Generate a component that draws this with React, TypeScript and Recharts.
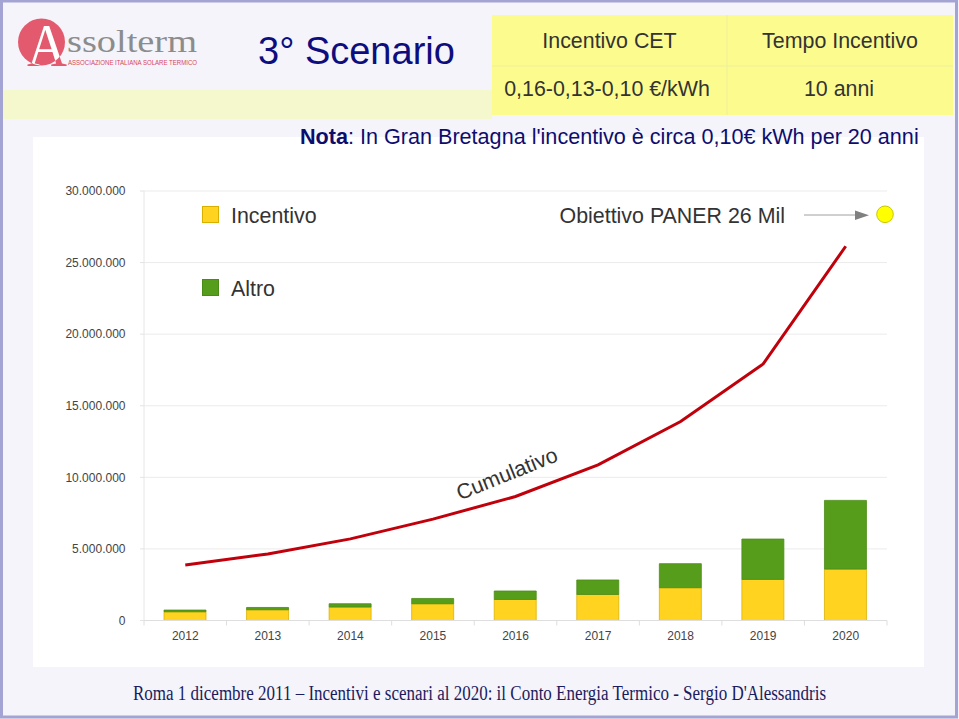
import React from 'react';
import { ComposedChart, Bar, Line, XAxis, YAxis, CartesianGrid, Legend } from 'recharts';

const years = ['2012', '2013', '2014', '2015', '2016', '2017', '2018', '2019', '2020'];
const incentivo = [610000, 750000, 940000, 1170000, 1470000, 1820000, 2290000, 2870000, 3590000];
const altro = [120000, 160000, 230000, 370000, 590000, 1010000, 1680000, 2820000, 4800000];
const cumulativo = [3880000, 4650000, 5700000, 7080000, 8660000, 10870000, 13900000, 17920000, 26140000];
const yTicks = [0, 5000000, 10000000, 15000000, 20000000, 25000000, 30000000];

const seriesNames = { incentivo: 'Incentivo', altro: 'Altro', cumulativo: 'Cumulativo' };
const legendOrder = ['incentivo', 'altro'];
const tableHeader = ['Incentivo CET', 'Tempo Incentivo'];
const tableRow = ['0,16-0,13-0,10 €/kWh', '10 anni'];

const data = years.map((y, i) => ({
  year: y,
  incentivo: incentivo[i],
  altro: altro[i],
  cumulativo: cumulativo[i],
}));

const SANS = '"Liberation Sans", Arial, sans-serif';
const SERIF = '"Liberation Serif", "Times New Roman", serif';

const fmt = (v: number) => String(Math.round(v)).replace(/\B(?=(\d{3})+(?!\d))/g, '.');

const legendBorder: Record<string, string> = { incentivo: '#d8b000', altro: '#4a8a16' };

const renderLegend = (props: any) => {
  const items = (props.payload || [])
    .filter((p: any) => legendOrder.includes(String(p.dataKey)))
    .sort((a: any, b: any) => legendOrder.indexOf(String(a.dataKey)) - legendOrder.indexOf(String(b.dataKey)));
  return (
    <div style={{ fontFamily: SANS, fontSize: 21.4, color: '#333' }}>
      {items.map((it: any, i: number) => (
        <div
          key={String(it.dataKey)}
          style={{ display: 'flex', alignItems: 'center', height: 18, marginBottom: i === 0 ? 55 : 0, whiteSpace: 'nowrap' }}
        >
          <span
            style={{
              display: 'inline-block',
              width: 17,
              height: 17,
              boxSizing: 'border-box',
              background: it.color,
              border: `1px solid ${legendBorder[String(it.dataKey)] || it.color}`,
              marginRight: 12,
            }}
          />
          <span style={{ position: 'relative', top: 2 }}>{it.value}</span>
        </div>
      ))}
    </div>
  );
};

const XTick = (props: any) => {
  const { x, y, payload, index, visibleTicksCount } = props;
  const half = payload && typeof payload.offset === 'number' && payload.offset > 0 ? payload.offset : 41.3;
  const last = index === (visibleTicksCount || years.length) - 1;
  return (
    <g>
      <line x1={x - half} x2={x - half} y1={y} y2={y + 5} stroke="#dedede" />
      {last && <line x1={x + half} x2={x + half} y1={y} y2={y + 5} stroke="#dedede" />}
      <text x={x} y={y + 15.5} dy="0.35em" textAnchor="middle" fill="#444" fontSize={12} fontFamily={SANS}>
        {payload.value}
      </text>
    </g>
  );
};

export default function App() {
  return (
    <div style={{ position: 'absolute', left: 0, top: 0, width: 959, height: 719, background: '#f4f4fa', overflow: 'hidden' }}>
      <div style={{ position: 'absolute', left: 33, top: 137, width: 891, height: 530, background: '#ffffff' }}>
        <ComposedChart
          width={891}
          height={530}
          data={data}
          margin={{ top: 54, right: 37, left: 0, bottom: 16.5 }}
        >
          <CartesianGrid vertical={false} stroke="#ebebeb" />
          <XAxis
            dataKey="year"
            height={30}
            tickSize={0}
            tickMargin={0}
            tickLine={false}
            axisLine={{ stroke: '#dedede' }}
            tick={<XTick />}
            interval={0}
          />
          <YAxis
            width={111}
            domain={[0, 30000000]}
            ticks={yTicks}
            tickFormatter={fmt}
            tickSize={4}
            tickMargin={14.5}
            tickLine={{ stroke: '#e3e3e3' }}
            axisLine={{ stroke: '#e6e6e6' }}
            tick={{ fill: '#444', fontSize: 12, fontFamily: SANS }}
            interval={0}
          />
          <YAxis
            yAxisId="edge"
            orientation="right"
            width={0}
            tick={false}
            tickLine={false}
            axisLine={{ stroke: '#efefef' }}
          />
          <Legend
            layout="vertical"
            align="center"
            verticalAlign="middle"
            content={renderLegend}
            wrapperStyle={{ left: 169, top: 68, width: 200 }}
          />
          <Bar
            dataKey="incentivo"
            name={seriesNames.incentivo}
            stackId="s"
            fill="#ffd320"
            stroke="#dcb200"
            strokeWidth={0.8}
            barSize={42}
            isAnimationActive={false}
          />
          <Bar
            dataKey="altro"
            name={seriesNames.altro}
            stackId="s"
            fill="#579d1c"
            stroke="#4c8c17"
            strokeWidth={0.8}
            barSize={42}
            isAnimationActive={false}
          />
          <Line
            dataKey="cumulativo"
            name={seriesNames.cumulativo}
            type="linear"
            stroke="#c0000b"
            strokeWidth={3}
            dot={false}
            activeDot={false}
            legendType="none"
            isAnimationActive={false}
          />
        </ComposedChart>
        <svg width={891} height={530} style={{ position: 'absolute', left: 0, top: 0, pointerEvents: 'none' }}>
          <text x={752} y={79} textAnchor="end" dominantBaseline="central" fontFamily={SANS} fontSize={21.4} fill="#333">
            Obiettivo PANER 26 Mil
          </text>
          <line x1={771} x2={823} y1={78} y2={78} stroke="#a0a0a0" strokeWidth={1} />
          <polygon points="822,73.5 836,78.3 822,83" fill="#808080" />
          <circle cx={852} cy={77.3} r={8.3} fill="#ffff00" stroke="#c8c800" strokeWidth={1} />
          <text
            x={474}
            y={337}
            textAnchor="middle"
            dominantBaseline="central"
            fontFamily={SANS}
            fontSize={21.4}
            fill="#333"
            transform="rotate(-22 474 337)"
          >
            Cumulativo
          </text>
        </svg>
      </div>

      <svg width={959} height={719} style={{ position: 'absolute', left: 0, top: 0, pointerEvents: 'none' }}>
        <defs>
          <clipPath id="logoCircle">
            <circle cx={41.5} cy={42} r={23.5} />
          </clipPath>
          <clipPath id="outsideCircle">
            <path d="M0,0 H120 V100 H0 Z M41.5,18.5 a23.5,23.5 0 1,0 0.01,0 Z" clipRule="evenodd" />
          </clipPath>
        </defs>
        <rect x={1.5} y={1} width={955} height={716} fill="none" stroke="#a4a4d4" strokeWidth={3} />
        <rect x={3} y={90} width={489} height={29} fill="#f5f7cd" />
        <circle cx={41.5} cy={42} r={23.5} fill="#e35a6e" />
        <g clipPath="url(#logoCircle)">
          <text x={27} y={66} fontFamily={SERIF} fontSize={62} fill="#ffffff" textLength={40} lengthAdjust="spacingAndGlyphs">
            A
          </text>
        </g>
        <g clipPath="url(#outsideCircle)">
          <text x={27} y={66} fontFamily={SERIF} fontSize={62} fill="#e35a6e" textLength={40} lengthAdjust="spacingAndGlyphs">
            A
          </text>
        </g>
        <text x={67} y={52} fontFamily={SERIF} fontSize={31} fill="#8c8c8c" textLength={130} lengthAdjust="spacingAndGlyphs">
          ssolterm
        </text>
        <text x={68} y={65} fontFamily={SANS} fontSize={6.5} fill="#d9475c" textLength={129} lengthAdjust="spacingAndGlyphs">
          ASSOCIAZIONE ITALIANA SOLARE TERMICO
        </text>
        <text x={258} y={64} fontFamily={SANS} fontSize={38} fill="#0d0d7d">
          3° Scenario
        </text>
        <rect x={492} y={15} width={461} height={100} fill="#fcfc8e" />
        <line x1={492} x2={953} y1={66} y2={66} stroke="#eeee9c" strokeWidth={1} />
        <line x1={727} x2={727} y1={15} y2={115} stroke="#eeee9c" strokeWidth={1} />
        <text x={609.5} y={41} textAnchor="middle" dominantBaseline="central" fontFamily={SANS} fontSize={21.4} fill="#333">
          {tableHeader[0]}
        </text>
        <text x={840} y={41} textAnchor="middle" dominantBaseline="central" fontFamily={SANS} fontSize={21.4} fill="#333">
          {tableHeader[1]}
        </text>
        <text x={607} y={89} textAnchor="middle" dominantBaseline="central" fontFamily={SANS} fontSize={21.4} fill="#333">
          {tableRow[0]}
        </text>
        <text x={839} y={89} textAnchor="middle" dominantBaseline="central" fontFamily={SANS} fontSize={21.4} fill="#333">
          {tableRow[1]}
        </text>
        <text x={300} y={144} fontFamily={SANS} fontSize={21.6} fill="#0d0d6e">
          <tspan fontWeight="bold">Nota</tspan>
          <tspan>: In Gran Bretagna l'incentivo è circa 0,10€ kWh per 20 anni</tspan>
        </text>
        <text x={133} y={700} fontFamily={SERIF} fontSize={20} fill="#1b1b5e" textLength={693} lengthAdjust="spacingAndGlyphs">
          Roma 1 dicembre 2011 – Incentivi e scenari al 2020: il Conto Energia Termico - Sergio D'Alessandris
        </text>
      </svg>
    </div>
  );
}
